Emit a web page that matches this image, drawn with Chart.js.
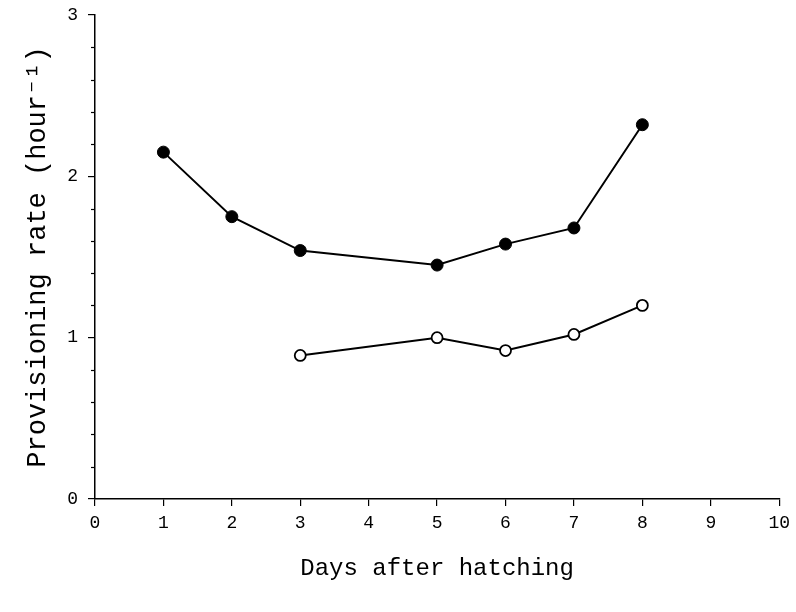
<!DOCTYPE html>
<html><head><meta charset="utf-8">
<script src="https://cdn.jsdelivr.net/npm/chart.js@4/dist/chart.umd.min.js"></script>
<style>html,body{margin:0;padding:0;background:#fff}#wrap{width:796px;height:612px}</style>
</head><body><div id="wrap"><canvas id="c" width="796" height="612"></canvas></div>
<script>
const daysFilled = [1, 2, 3, 5, 6, 7, 8];
const rateFilled = [2.15, 1.75, 1.54, 1.45, 1.58, 1.68, 2.32];
const daysOpen = [3, 5, 6, 7, 8];
const rateOpen = [0.89, 1.0, 0.92, 1.02, 1.20];
const xTicks = [0,1,2,3,4,5,6,7,8,9,10];
const yTicks = [0,1,2,3];
const FONT = "'Liberation Mono', 'DejaVu Sans Mono', monospace";

const minorTicks = {
  id: 'minorTicks',
  afterDraw(chart) {
    const y = chart.scales.y, ctx = chart.ctx;
    ctx.save(); ctx.strokeStyle = '#000'; ctx.lineWidth = 1.2;
    for (let v = 0.2; v < 3; v += 0.2) {
      if (Math.abs(v - Math.round(v)) < 1e-6) continue;
      const p = Math.round(y.getPixelForValue(v)) + 0.5;
      ctx.beginPath(); ctx.moveTo(y.right - 4, p); ctx.lineTo(y.right, p); ctx.stroke();
    }
    ctx.restore();
  }
};

new Chart(document.getElementById('c'), {
  type: 'scatter',
  data: {
    datasets: [
      { data: daysFilled.map((d,i)=>({x:d,y:rateFilled[i]})), showLine: true,
        borderColor: '#000', borderWidth: 2, pointRadius: 6, pointBackgroundColor: '#000',
        pointBorderColor: '#000', pointBorderWidth: 1 },
      { data: daysOpen.map((d,i)=>({x:d,y:rateOpen[i]})), showLine: true,
        borderColor: '#000', borderWidth: 2, pointRadius: 5.5, pointBackgroundColor: '#fff',
        pointBorderColor: '#000', pointBorderWidth: 1.8 }
    ]
  },
  options: {
    responsive: false, animation: false,
    layout: { padding: { top: 15, right: 16, left: 18, bottom: 23 } },
    plugins: { legend: { display: false }, tooltip: { enabled: false } },
    scales: {
      x: { type: 'linear', min: 0, max: 10,
        afterBuildTicks: s => { s.ticks = xTicks.map(v => ({ value: v })); },
        afterFit: s => { s.height = 90; },
        grid: { drawOnChartArea: false, tickLength: 7, color: '#000', lineWidth: 1.2 },
        border: { color: '#000', width: 1.5 },
        ticks: { color: '#000', font: { family: FONT, size: 18 }, padding: 6, maxRotation: 0 },
        title: { display: true, text: 'Days after hatching', color: '#000',
          font: { family: FONT, size: 24 }, padding: { top: 16, bottom: 6 } } },
      y: { min: 0, max: 3,
        afterBuildTicks: s => { s.ticks = yTicks.map(v => ({ value: v })); },
        afterFit: s => { s.width = 77; s.paddingTop = 0; s.paddingBottom = 0; },
        grid: { drawOnChartArea: false, tickLength: 7, color: '#000', lineWidth: 1.2 },
        border: { color: '#000', width: 1.5 },
        ticks: { color: '#000', font: { family: FONT, size: 18 }, padding: 10 },
        title: { display: true, text: 'Provisioning rate (hour⁻¹)', color: '#000',
          font: { family: FONT, size: 27 }, padding: { bottom: 12 } } }
    }
  },
  plugins: [minorTicks]
});
</script></body></html>
